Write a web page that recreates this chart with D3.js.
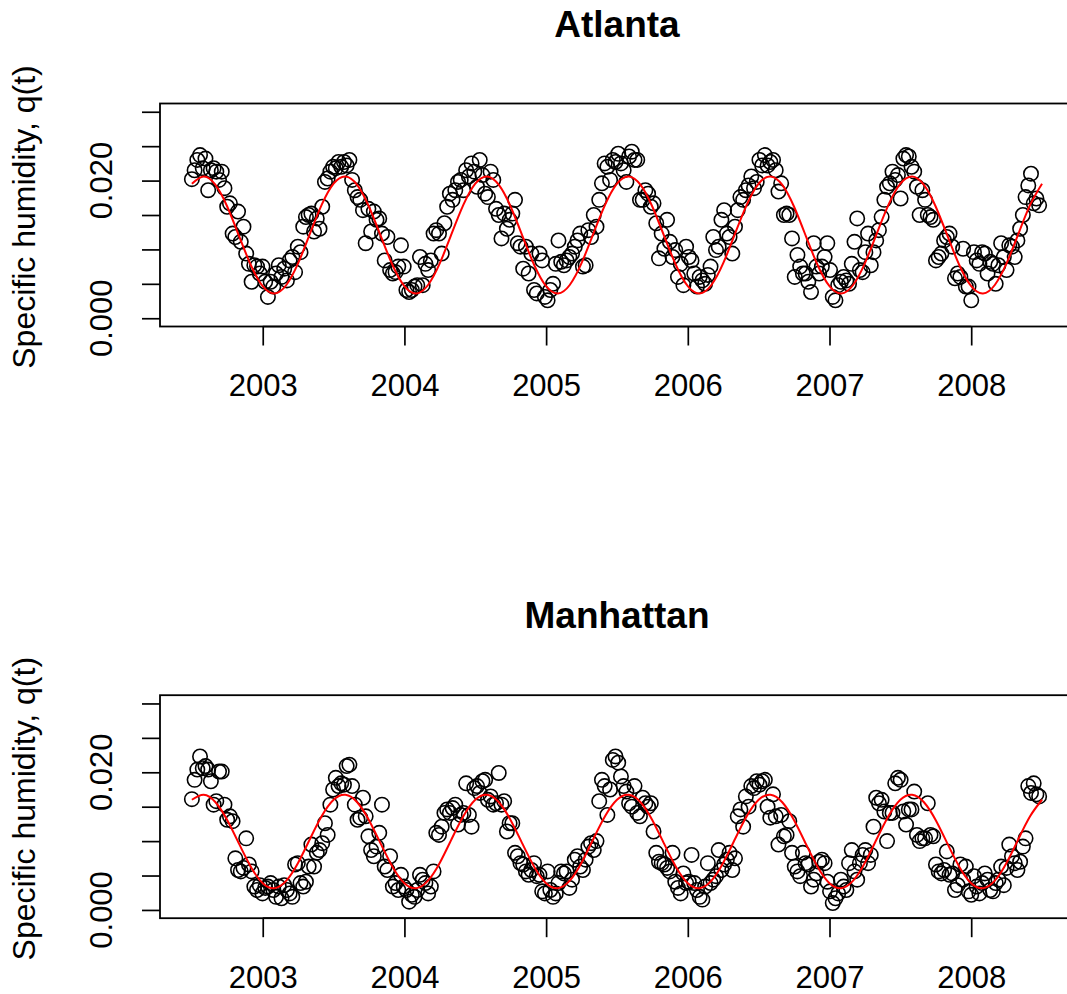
<!DOCTYPE html>
<html>
<head>
<meta charset="utf-8">
<script src="https://cdn.jsdelivr.net/npm/d3@7"></script>
<style>
  body { margin: 0; background: #fff; }
  svg { display: block; }
  text { font-family: "Liberation Sans", Arial, Helvetica, sans-serif; fill: #000; }
</style>
</head>
<body>
<svg width="1067" height="994"></svg>
<script>
// Weekly specific humidity, first week starts mid 2002
var startYear = 2002.5;
var years = [2003, 2004, 2005, 2006, 2007, 2008];
var yTicks = [0, 0.005, 0.010, 0.015, 0.020, 0.025, 0.030];
var yLabels = [0, 0.020];

var atlanta = [
  0.0202,0.0215,0.0230,0.0237,0.0218,0.0232,0.0186,0.0215,0.0218,0.0213,0.0201,0.0213,0.0189,0.0162,0.0167,0.0123,0.0118,0.0155,0.0111,0.0133,0.0094,0.0079,0.0053,0.0077,0.0075,0.0065,
  0.0075,0.0053,0.0031,0.0053,0.0046,0.0065,0.0077,0.0060,0.0072,0.0055,0.0084,0.0089,0.0067,0.0104,0.0096,0.0133,0.0147,0.0150,0.0152,0.0126,0.0145,0.0130,0.0162,0.0198,0.0203,0.0213,
  0.0220,0.0218,0.0227,0.0220,0.0227,0.0222,0.0230,0.0201,0.0186,0.0176,0.0172,0.0157,0.0109,0.0159,0.0126,0.0155,0.0143,0.0145,0.0123,0.0084,0.0118,0.0070,0.0065,0.0067,0.0075,0.0106,
  0.0075,0.0041,0.0038,0.0041,0.0046,0.0048,0.0089,0.0048,0.0079,0.0070,0.0084,0.0123,0.0128,0.0123,0.0094,0.0138,0.0162,0.0181,0.0172,0.0186,0.0198,0.0201,0.0186,0.0215,0.0206,0.0225,
  0.0213,0.0191,0.0230,0.0208,0.0181,0.0176,0.0213,0.0201,0.0159,0.0150,0.0116,0.0152,0.0130,0.0143,0.0152,0.0172,0.0109,0.0104,0.0072,0.0104,0.0065,0.0094,0.0041,0.0036,0.0094,0.0084,
  0.0031,0.0026,0.0041,0.0050,0.0079,0.0113,0.0082,0.0077,0.0084,0.0089,0.0094,0.0104,0.0113,0.0123,0.0075,0.0077,0.0128,0.0118,0.0150,0.0133,0.0172,0.0196,0.0225,0.0220,0.0201,0.0230,
  0.0227,0.0239,0.0225,0.0215,0.0198,0.0235,0.0242,0.0230,0.0230,0.0172,0.0172,0.0186,0.0181,0.0162,0.0167,0.0138,0.0087,0.0123,0.0101,0.0143,0.0111,0.0089,0.0099,0.0060,0.0079,0.0048,
  0.0104,0.0089,0.0084,0.0065,0.0046,0.0060,0.0055,0.0050,0.0063,0.0075,0.0118,0.0099,0.0104,0.0143,0.0157,0.0123,0.0118,0.0094,0.0133,0.0157,0.0176,0.0172,0.0186,0.0193,0.0206,0.0189,
  0.0198,0.0230,0.0222,0.0237,0.0222,0.0227,0.0230,0.0215,0.0184,0.0196,0.0150,0.0152,0.0150,0.0116,0.0060,0.0092,0.0075,0.0065,0.0065,0.0053,0.0038,0.0109,0.0075,0.0065,0.0075,0.0089,
  0.0109,0.0070,0.0031,0.0026,0.0048,0.0053,0.0060,0.0055,0.0050,0.0079,0.0111,0.0145,0.0070,0.0067,0.0096,0.0123,0.0077,0.0096,0.0113,0.0128,0.0147,0.0172,0.0191,0.0196,0.0213,0.0201,
  0.0208,0.0174,0.0232,0.0237,0.0235,0.0220,0.0213,0.0191,0.0150,0.0186,0.0172,0.0150,0.0147,0.0143,0.0084,0.0089,0.0094,0.0113,0.0118,0.0123,0.0104,0.0058,0.0065,0.0060,0.0101,0.0046,
  0.0046,0.0026,0.0096,0.0084,0.0079,0.0096,0.0094,0.0065,0.0082,0.0079,0.0050,0.0077,0.0109,0.0089,0.0070,0.0106,0.0104,0.0089,0.0113,0.0130,0.0150,0.0176,0.0193,0.0210,0.0167,0.0174,0.0164
];

var manhattan = [
  0.0161,0.0189,0.0204,0.0223,0.0206,0.0209,0.0204,0.0187,0.0153,0.0158,0.0201,0.0201,0.0153,0.0131,0.0136,0.0129,0.0075,0.0058,0.0056,0.0061,0.0104,0.0066,0.0056,0.0034,0.0029,0.0036,
  0.0024,0.0032,0.0034,0.0039,0.0029,0.0019,0.0034,0.0017,0.0036,0.0029,0.0024,0.0019,0.0066,0.0068,0.0039,0.0034,0.0041,0.0063,0.0095,0.0063,0.0083,0.0087,0.0097,0.0126,0.0109,0.0153,
  0.0175,0.0192,0.0180,0.0184,0.0182,0.0209,0.0211,0.0180,0.0153,0.0131,0.0134,0.0163,0.0136,0.0107,0.0087,0.0078,0.0092,0.0112,0.0153,0.0063,0.0058,0.0078,0.0034,0.0039,0.0029,0.0051,
  0.0034,0.0029,0.0012,0.0022,0.0019,0.0029,0.0051,0.0044,0.0039,0.0024,0.0034,0.0056,0.0112,0.0109,0.0121,0.0141,0.0146,0.0141,0.0148,0.0153,0.0124,0.0138,0.0141,0.0184,0.0138,0.0121,
  0.0177,0.0180,0.0170,0.0187,0.0189,0.0160,0.0165,0.0153,0.0155,0.0199,0.0153,0.0158,0.0114,0.0126,0.0126,0.0083,0.0078,0.0068,0.0066,0.0056,0.0051,0.0058,0.0068,0.0049,0.0051,0.0027,
  0.0024,0.0056,0.0029,0.0019,0.0024,0.0039,0.0056,0.0053,0.0056,0.0032,0.0044,0.0073,0.0078,0.0063,0.0058,0.0073,0.0092,0.0097,0.0087,0.0100,0.0158,0.0189,0.0180,0.0138,0.0175,0.0218,
  0.0223,0.0214,0.0194,0.0180,0.0172,0.0155,0.0150,0.0180,0.0141,0.0136,0.0163,0.0155,0.0150,0.0155,0.0114,0.0083,0.0070,0.0068,0.0066,0.0061,0.0056,0.0083,0.0041,0.0032,0.0024,0.0053,
  0.0039,0.0041,0.0080,0.0039,0.0029,0.0019,0.0015,0.0034,0.0068,0.0039,0.0044,0.0049,0.0087,0.0058,0.0066,0.0073,0.0083,0.0058,0.0075,0.0136,0.0146,0.0121,0.0165,0.0150,0.0180,0.0177,
  0.0187,0.0182,0.0187,0.0189,0.0150,0.0134,0.0168,0.0136,0.0095,0.0138,0.0107,0.0109,0.0129,0.0083,0.0063,0.0056,0.0049,0.0083,0.0068,0.0066,0.0034,0.0044,0.0053,0.0070,0.0073,0.0068,
  0.0041,0.0027,0.0010,0.0017,0.0024,0.0044,0.0034,0.0029,0.0068,0.0087,0.0056,0.0044,0.0068,0.0080,0.0087,0.0068,0.0080,0.0121,0.0163,0.0155,0.0160,0.0143,0.0100,0.0141,0.0141,0.0184,
  0.0192,0.0189,0.0143,0.0124,0.0146,0.0146,0.0172,0.0109,0.0100,0.0104,0.0104,0.0155,0.0109,0.0107,0.0066,0.0056,0.0053,0.0058,0.0085,0.0051,0.0053,0.0029,0.0036,0.0066,0.0044,0.0063,
  0.0027,0.0022,0.0049,0.0034,0.0024,0.0039,0.0053,0.0044,0.0029,0.0027,0.0039,0.0044,0.0063,0.0036,0.0061,0.0095,0.0078,0.0068,0.0058,0.0070,0.0092,0.0104,0.0180,0.0170,0.0184,0.0168,0.0165
];

// fitted seasonal curve
var atlantaFit = [
  0.01955,0.02060,0.01937,0.01620,0.01192,0.00770,0.00465,0.00360,0.00483,0.00800,0.01228,0.01650,
  0.01955,0.02060,0.01937,0.01620,0.01192,0.00770,0.00465,0.00360,0.00483,0.00800,0.01228,0.01650,
  0.01955,0.02060,0.01937,0.01620,0.01192,0.00770,0.00465,0.00360,0.00483,0.00800,0.01228,0.01650,
  0.01955,0.02060,0.01937,0.01620,0.01192,0.00770,0.00465,0.00360,0.00483,0.00800,0.01228,0.01650,
  0.01955,0.02060,0.01937,0.01620,0.01192,0.00770,0.00465,0.00360,0.00483,0.00800,0.01228,0.01650,
  0.01955,0.02060,0.01937,0.01620,0.01192,0.00770,0.00465,0.00360,0.00483,0.00800,0.01228,0.01650,
  0.01955
];
var manhattanFit = [
  0.01601,0.01674,0.01565,0.01304,0.00959,0.00625,0.00389,0.00316,0.00425,0.00686,0.01031,0.01365,
  0.01601,0.01674,0.01565,0.01304,0.00959,0.00625,0.00389,0.00316,0.00425,0.00686,0.01031,0.01365,
  0.01601,0.01674,0.01565,0.01304,0.00959,0.00625,0.00389,0.00316,0.00425,0.00686,0.01031,0.01365,
  0.01601,0.01674,0.01565,0.01304,0.00959,0.00625,0.00389,0.00316,0.00425,0.00686,0.01031,0.01365,
  0.01601,0.01674,0.01565,0.01304,0.00959,0.00625,0.00389,0.00316,0.00425,0.00686,0.01031,0.01365,
  0.01601,0.01674,0.01565,0.01304,0.00959,0.00625,0.00389,0.00316,0.00425,0.00686,0.01031,0.01365,
  0.01601
];

const svg = d3.select('svg');

// same scales for both panels, the panel is shifted down
const x = d3.scaleLinear().domain([2002.275, 2008.7255]).range([160, 1074]);
const y = d3.scaleLinear().domain([-0.0012, 0.0312]).range([326.5, 103.5]);

function drawPanel(top, title, obs, fit) {
	var g = svg.append('g').attr('transform', 'translate(0,' + top + ')');

	// x axis
	var xa = g.append('g')
		.attr('transform', 'translate(0,' + y.range()[0] + ')')
		.call(d3.axisBottom(x).tickValues(years).tickSize(19).tickFormat(d3.format('d')));
	xa.select('.domain').remove();
	xa.selectAll('line').attr('stroke', '#000').attr('stroke-width', 1.7);
	xa.selectAll('text').attr('y', 69.5).attr('dy', 0).style('font-size', '31px');
	g.append('line')
		.attr('x1', x(years[0])).attr('x2', x(years[years.length - 1]))
		.attr('y1', y.range()[0]).attr('y2', y.range()[0])
		.attr('stroke', '#000').attr('stroke-width', 1.7);

	// y axis, R style: labels parallel to the axis
	var ya = g.append('g')
		.attr('transform', 'translate(' + x.range()[0] + ',0)')
		.call(d3.axisLeft(y).tickValues(yTicks).tickSize(18).tickFormat(''));
	ya.select('.domain').remove();
	ya.selectAll('line').attr('stroke', '#000').attr('stroke-width', 1.7);
	g.selectAll('.ylab')
		.data(yLabels)
		.enter()
		.append('text')
		.attr('transform', d => 'translate(112,' + y(d) + ') rotate(-90)')
		.attr('text-anchor', 'middle')
		.style('font-size', '31px')
		.text(d => d3.format('.3f')(d));

	g.append('text')
		.attr('transform', 'translate(35,' + ((y.range()[0] + y.range()[1]) / 2 + 2) + ') rotate(-90)')
		.attr('text-anchor', 'middle')
		.style('font-size', '32px')
		.text('Specific humidity, q(t)');

	// box
	g.append('rect')
		.attr('x', x.range()[0]).attr('y', y.range()[1])
		.attr('width', x.range()[1] - x.range()[0])
		.attr('height', y.range()[0] - y.range()[1])
		.attr('fill', 'none').attr('stroke', '#000').attr('stroke-width', 1.8);

	// observed weeks
	g.selectAll('.pt')
		.data(obs)
		.enter()
		.append('circle')
		.attr('cx', (d, i) => x(startYear + i * 7 / 365.25))
		.attr('cy', d => y(d))
		.attr('r', 7.2)
		.attr('fill', 'none')
		.attr('stroke', '#000')
		.attr('stroke-width', 1.6);

	// fitted curve
	var line = d3.line()
		.x((d, i) => x(startYear + i / 12))
		.y(d => y(d))
		.curve(d3.curveNatural);
	g.append('path')
		.datum(fit)
		.attr('d', line)
		.attr('fill', 'none')
		.attr('stroke', 'red')
		.attr('stroke-width', 2);

	g.append('text')
		.attr('x', (x.range()[0] + x.range()[1]) / 2)
		.attr('y', 36.7)
		.attr('text-anchor', 'middle')
		.style('font-size', '37px')
		.style('font-weight', 'bold')
		.text(title);
}

drawPanel(0, 'Atlanta', atlanta, atlantaFit);
drawPanel(591.7, 'Manhattan', manhattan, manhattanFit);
</script>
</body>
</html>
